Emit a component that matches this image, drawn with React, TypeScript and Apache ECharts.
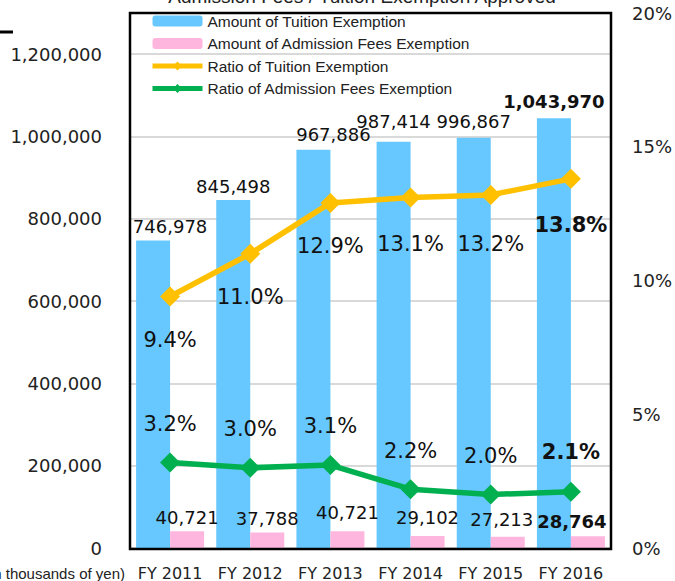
import React, { useEffect, useRef } from "react";
import * as echarts from "echarts";

const categories = ["FY 2011", "FY 2012", "FY 2013", "FY 2014", "FY 2015", "FY 2016"];
const tuitionAmount = [746978, 845498, 967886, 987414, 996867, 1043970];
const admissionAmount = [40721, 37788, 40721, 29102, 27213, 28764];
const tuitionRatio = [9.4, 11.0, 12.9, 13.1, 13.2, 13.8];
const admissionRatio = [3.2, 3.0, 3.1, 2.2, 2.0, 2.1];
const seriesNames = [
  "Amount of Tuition Exemption",
  "Amount of Admission Fees Exemption",
  "Ratio of Tuition Exemption",
  "Ratio of Admission Fees Exemption",
];
const titleText = "Admission Fees / Tuition Exemption Approved";
const unitText = "(in thousands of yen)";
const highlightIndex = 5;

// label nudges (style only)
const tuitionLabelOffset = [[17, 0], [0, 0], [20, -1], [0, -6], [0, -2], [0, -3]];
const admissionLabelOffset = [[0, 0], [0, 0], [0, -5], [0, -5], [-6, -3], [-16, -1]];
const tuitionRatioOffset = [[0, 0], [0, 0], [0, 0], [0, 3], [0, 6], [0, 3]];
const admissionRatioOffset = [[0, 0], [0, 0], [0, -1], [0, 0], [0, 0], [0, -1]];

const fmtAmount = (v: number) => v.toLocaleString("en-US");
const fmtRatio = (v: number) => v.toFixed(1) + "%";

const FONT = "DejaVu Sans";

export default function App() {
  const ref = useRef<HTMLDivElement>(null);
  useEffect(() => {
    if (!ref.current) return;
    const chart = echarts.init(ref.current, null, { renderer: "svg" });
    const mk = (vals: number[], offs: number[][], fmt: (v: number) => string, size: number) =>
      vals.map((v, i) => ({
        value: v,
        label: {
          offset: offs[i],
          fontWeight: i === highlightIndex ? "bold" : "normal",
          formatter: () => fmt(v),
          fontSize: size,
        },
      }));
    chart.setOption({
      animation: false,
      backgroundColor: "#fff",
      textStyle: { fontFamily: FONT },
      grid: { left: 130, right: 64, top: 13, bottom: 32 },
      legend: {
        orient: "vertical",
        left: 145,
        top: 8,
        itemWidth: 50,
        itemHeight: 11,
        itemGap: 6.5,
        data: seriesNames,
        lineStyle: { width: 5 },
        textStyle: { fontFamily: "Liberation Sans", fontSize: 15.5, color: "#222", lineHeight: 15 },
      },
      xAxis: {
        type: "category",
        data: categories,
        axisLine: { show: false },
        axisTick: { show: false },
        axisLabel: { interval: 0, fontFamily: FONT, fontSize: 16, color: "#222", margin: 17 },
      },
      yAxis: [
        {
          type: "value",
          min: 0,
          max: 1300000,
          interval: 200000,
          axisLine: { show: false },
          axisTick: { show: false },
          splitLine: { lineStyle: { color: "#d9d9d9", width: 2 } },
          axisLabel: {
            fontFamily: FONT,
            fontSize: 18,
            color: "#222",
            margin: 28,
            padding: [0, 0, 5, 0],
            showMaxLabel: false,
            formatter: (v: number) => fmtAmount(v),
          },
        },
        {
          type: "value",
          min: 0,
          max: 20,
          interval: 5,
          axisLine: { show: false },
          axisTick: { show: false },
          splitLine: { show: false },
          axisLabel: { fontFamily: FONT, fontSize: 18, color: "#222", margin: 21, formatter: "{value}%" },
        },
      ],
      series: [
        {
          name: seriesNames[0],
          type: "bar",
          barWidth: 34,
          barGap: "0%",
          itemStyle: { color: "#66C8FF" },
          label: { show: true, position: "top", distance: 5, color: "#111", fontFamily: FONT },
          data: mk(tuitionAmount, tuitionLabelOffset, fmtAmount, 18),
        },
        {
          name: seriesNames[1],
          type: "bar",
          barWidth: 34,
          barGap: "0%",
          itemStyle: { color: "#FFB6DE" },
          label: { show: true, position: "top", distance: 5, color: "#111", fontFamily: FONT },
          data: mk(admissionAmount, admissionLabelOffset, fmtAmount, 18),
        },
        {
          name: seriesNames[2],
          type: "line",
          yAxisIndex: 1,
          symbol: "diamond",
          symbolSize: 20,
          lineStyle: { color: "#FFC000", width: 5.5 },
          itemStyle: { color: "#FFC000" },
          label: { show: true, position: "bottom", distance: 23, color: "#111", fontFamily: FONT },
          data: mk(tuitionRatio, tuitionRatioOffset, fmtRatio, 21),
          z: 5,
        },
        {
          name: seriesNames[3],
          type: "line",
          yAxisIndex: 1,
          symbol: "diamond",
          symbolSize: 20,
          lineStyle: { color: "#00B050", width: 5.5 },
          itemStyle: { color: "#00B050" },
          label: { show: true, position: "top", distance: 18, color: "#111", fontFamily: FONT },
          data: mk(admissionRatio, admissionRatioOffset, fmtRatio, 21),
          z: 5,
        },
      ],
      graphic: [
        {
          type: "rect",
          shape: { x: 130, y: 13, width: 481, height: 536 },
          style: { fill: "none", stroke: "#000", lineWidth: 2.5 },
          z: 100,
        },
        {
          type: "text",
          x: 362,
          y: -4,
          style: {
            text: titleText,
            fontFamily: "Liberation Sans",
            fontSize: 19,
            fill: "#222",
            textAlign: "center",
            textVerticalAlign: "middle",
          },
        },
        {
          type: "text",
          x: 125,
          y: 573,
          style: {
            text: unitText,
            fontFamily: "Liberation Sans",
            fontSize: 15,
            fill: "#222",
            textAlign: "right",
            textVerticalAlign: "middle",
          },
        },
        {
          type: "line",
          shape: { x1: 0, y1: 32, x2: 13, y2: 32 },
          style: { stroke: "#000", lineWidth: 3 },
        },
      ],
    });
    return () => chart.dispose();
  }, []);
  return <div ref={ref} style={{ width: 675, height: 581, position: "absolute", left: 0, top: 0 }} />;
}
